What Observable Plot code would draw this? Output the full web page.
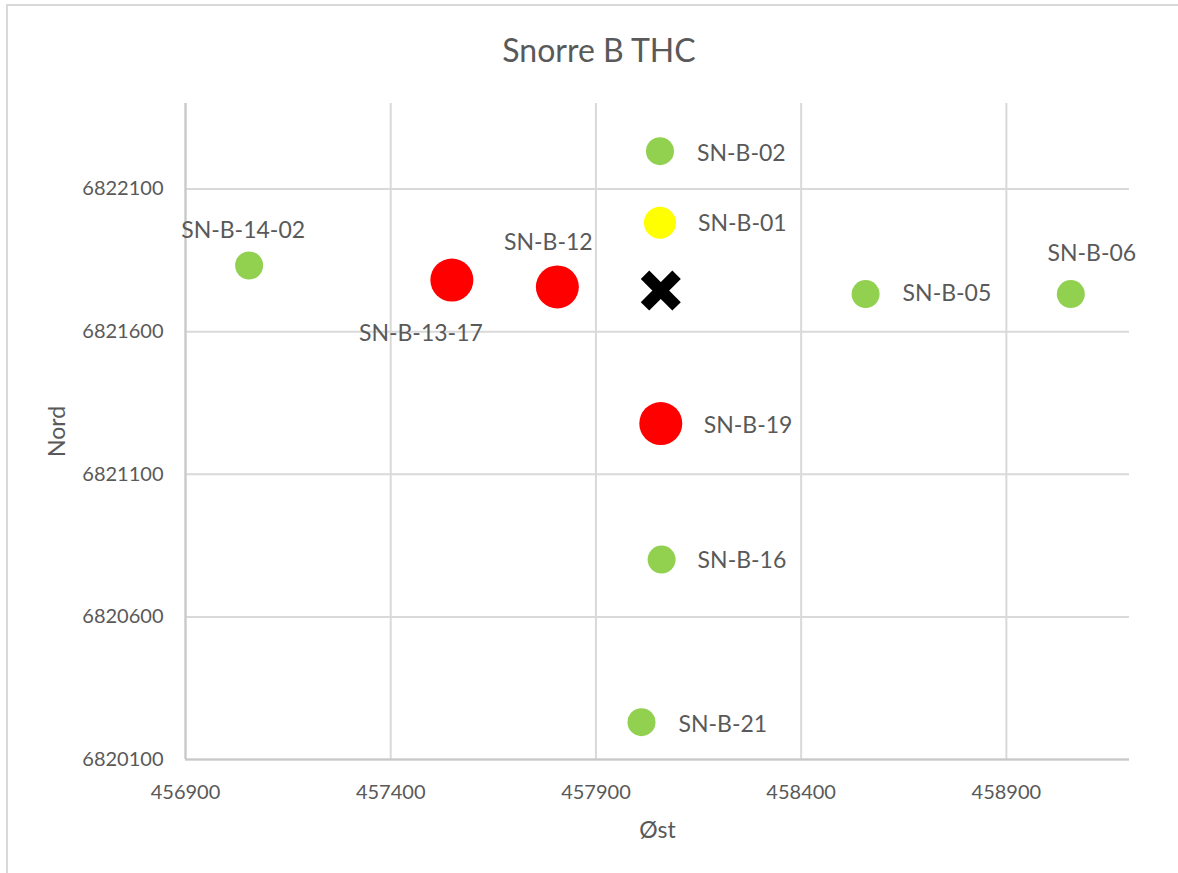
<!DOCTYPE html>
<html>
<head>
<meta charset="utf-8">
<script src="https://cdn.jsdelivr.net/npm/d3@7"></script>
<script src="https://cdn.jsdelivr.net/npm/@observablehq/plot@0.6"></script>
<style>
  html, body { margin: 0; padding: 0; background: #fff; overflow: hidden; }
  #wrap { position: relative; width: 1178px; height: 873px; font-family: Lato, "Open Sans", sans-serif; }
  #title { box-sizing: border-box; height: 80px; padding-top: 34px; padding-left: 20px; width: 1178px;
           text-align: center; font-size: 32px; line-height: 32px; color: #595959; }
  #border { position: absolute; left: 6px; top: 4px; width: 1200px; height: 900px;
            border-top: 2px solid #d9d9d9; border-left: 2px solid #d9d9d9; pointer-events: none; }
</style>
</head>
<body>
<div id="wrap">
  <div id="border"></div>
  <div id="title">Snorre B THC</div>
  <div id="chart"></div>
</div>
<script>
// ---- data ----
const names  = ["SN-B-02", "SN-B-01", "SN-B-14-02", "SN-B-13-17", "SN-B-12", "THC", "SN-B-05", "SN-B-06", "SN-B-19", "SN-B-16", "SN-B-21"];
const east   = [458056, 458056, 457055, 457549, 457806, 458058, 458557, 459057, 458058, 458060, 458011];
const north  = [6822233, 6821982, 6821832, 6821781, 6821757, 6821744, 6821732, 6821732, 6821278, 6820801, 6820231];
const status = ["normal", "warning", "normal", "alarm", "alarm", "platform", "normal", "normal", "alarm", "normal", "normal"];
const xTicks = [456900, 457400, 457900, 458400, 458900];
const yTicks = [6820100, 6820600, 6821100, 6821600, 6822100];
const xDomain = [456900, 459200];
const yDomain = [6820100, 6822400];

const rows = names.map((n, i) => ({name: n, east: east[i], north: north[i], status: status[i]}));

// ---- styles ----
const textColor = "#595959";
const gridColor = "#d9d9d9";
const dotStyle = {
  normal:  {fill: "#92d050", r: 14},
  warning: {fill: "#ffff00", r: 16},
  alarm:   {fill: "#ff0000", r: 21.5}
};
const labelPlacement = {
  "SN-B-02":    {dx: 37,  dy: 2,     anchor: "start"},
  "SN-B-01":    {dx: 38,  dy: 1,     anchor: "start"},
  "SN-B-14-02": {dx: -6,  dy: -35,   anchor: "middle"},
  "SN-B-13-17": {dx: -31, dy: 54,    anchor: "middle"},
  "SN-B-12":    {dx: -9,  dy: -44,   anchor: "middle"},
  "SN-B-05":    {dx: 37,  dy: 0,     anchor: "start"},
  "SN-B-06":    {dx: 21,  dy: -40.5, anchor: "middle"},
  "SN-B-19":    {dx: 43,  dy: 2,     anchor: "start"},
  "SN-B-16":    {dx: 36,  dy: 1,     anchor: "start"},
  "SN-B-21":    {dx: 37,  dy: 2,     anchor: "start"}
};

const dotMarks = Object.entries(dotStyle).map(([s, st]) =>
  Plot.dot(rows.filter(d => d.status === s), {x: "east", y: "north", r: st.r, fill: st.fill, stroke: "none"})
);

const labelMarks = rows.filter(d => labelPlacement[d.name]).map(d => {
  const p = labelPlacement[d.name];
  return Plot.text([d], {x: "east", y: "north", text: "name", dx: p.dx, dy: p.dy,
    textAnchor: p.anchor, lineAnchor: "middle", fill: textColor, fontSize: 23});
});

const chart = Plot.plot({
  width: 1178,
  height: 793,
  marginLeft: 185,
  marginRight: 49,
  marginTop: 23,
  marginBottom: 114,
  style: {fontFamily: "Lato, 'Open Sans', sans-serif", background: "#fff", overflow: "visible"},
  x: {domain: xDomain, ticks: xTicks, tickFormat: d3.format("d"), label: null},
  y: {domain: yDomain, ticks: yTicks, tickFormat: d3.format("d"), label: null},
  marks: [
    Plot.gridX(xTicks, {stroke: gridColor, strokeOpacity: 1, strokeWidth: 2}),
    Plot.gridY(yTicks, {stroke: gridColor, strokeOpacity: 1, strokeWidth: 2}),
    Plot.ruleX([xDomain[0]], {stroke: "#c8c8c8", strokeWidth: 2}),
    Plot.ruleY([yDomain[0]], {stroke: "#c8c8c8", strokeWidth: 2}),
    Plot.axisX(xTicks, {tickSize: 0, tickPadding: 25, fontSize: 20, fill: textColor, label: null, tickFormat: d3.format("d")}),
    Plot.axisY(yTicks, {tickSize: 0, tickPadding: 22, fontSize: 20, fill: textColor, label: null, tickFormat: d3.format("d")}),
    Plot.text(["Øst"], {frameAnchor: "bottom", dy: 71, lineAnchor: "middle", fontSize: 23, fill: textColor}),
    Plot.text(["Nord"], {frameAnchor: "left", dx: -128, rotate: -90, textAnchor: "middle", lineAnchor: "middle", fontSize: 23, fill: textColor}),
    ...dotMarks,
    Plot.dot(rows.filter(d => d.status === "platform"), {x: "east", y: "north", symbol: "times", r: 14.4, stroke: "#000", strokeWidth: 12}),
    ...labelMarks
  ]
});
document.getElementById("chart").appendChild(chart);
</script>
</body>
</html>
